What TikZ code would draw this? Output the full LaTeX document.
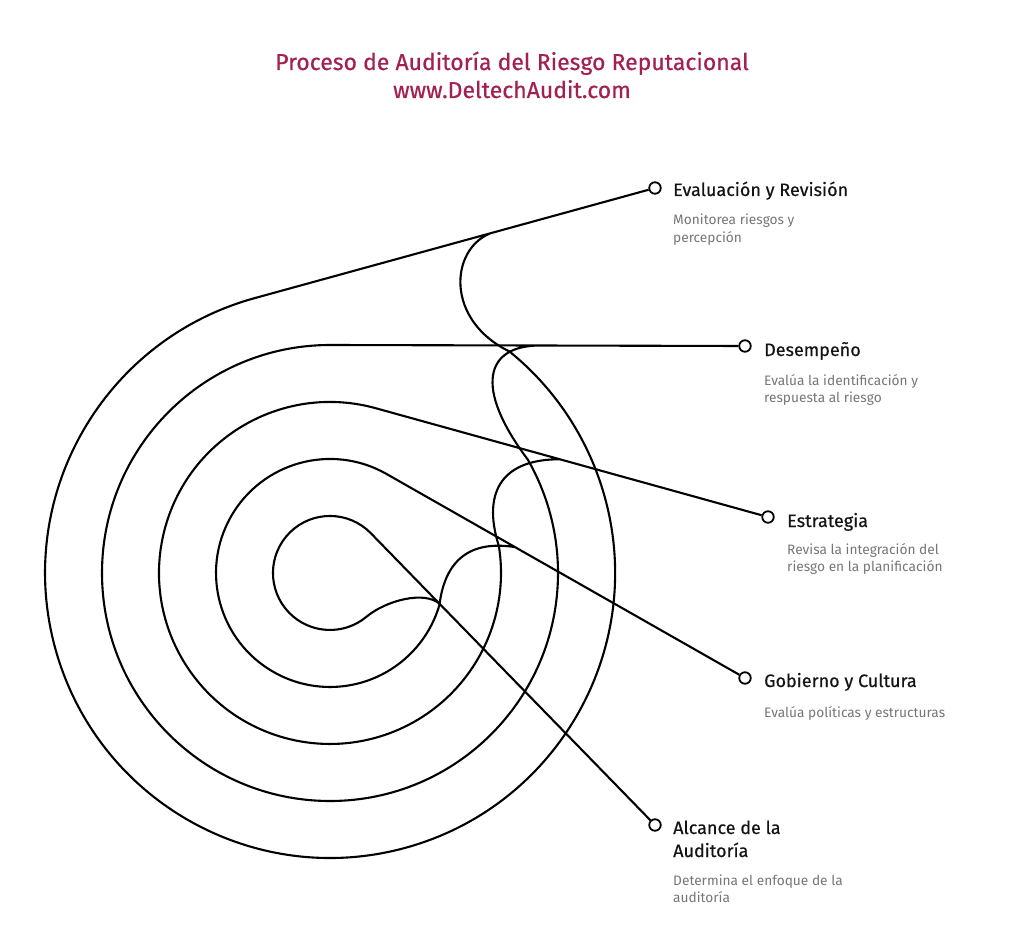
\documentclass[tikz,border=0pt]{standalone}
\usepackage{fontspec}
\setmainfont{Fira Sans}
\newfontfamily\headfont[FakeBold=0.5]{Fira Sans}
\definecolor{titlecol}{RGB}{162,33,80}
\definecolor{desccol}{RGB}{118,118,118}
\definecolor{headcol}{RGB}{20,20,20}
\begin{document}
\begin{tikzpicture}[x=1pt,y=-1pt,
  ln/.style={line width=2.1pt, black, line join=round},
  dot/.style={circle, draw=black, line width=1.8pt, fill=white, minimum size=11.5pt, inner sep=0pt},
  head/.style={anchor=base west, inner sep=0pt, font=\headfont\fontsize{18}{22}\selectfont, text=headcol},
  desc/.style={anchor=base west, inner sep=0pt, font=\fontsize{13.7}{17}\selectfont, text=desccol},
  ttl/.style={anchor=base, inner sep=0pt, font=\headfont\fontsize{23}{28}\selectfont, text=titlecol}]
\path[use as bounding box] (0,0) rectangle (1024,925);

% title
\node[ttl] (t1) at (512,70) {Proceso de Auditoría del Riesgo Reputacional};
\node[ttl] (t2) at (512,98) {www.DeltechAudit.com};

% dots
\node[dot] (dE) at (655,188) {};
\node[dot] (dD) at (745,346) {};
\node[dot] (dS) at (768,517) {};
\node[dot] (dG) at (745,678) {};
\node[dot] (dA) at (655,825) {};

% loops
\draw[ln] (dE) -- (254.4,298.2) arc[start angle=-105.4, end angle=-411, radius=285]
  .. controls (445,320) and (450,250) .. (490,233.4);
\draw[ln] (dD) -- (330,345) arc[start angle=-90, end angle=-389.85, radius=228]
  .. controls (473.7,387.5) and (485,345.5) .. (540,345.5);
\draw[ln] (dS) -- (375.7,408.2) arc[start angle=-74.5, end angle=-369, radius=171]
  .. controls (480.9,489) and (505,459) .. (560,459.3);
\draw[ln] (dG) -- (386.4,473.9) arc[start angle=-60.36, end angle=-343.7, radius=114]
  .. controls (445,560) and (470,540) .. (515,547.1);
\draw[ln] (dA) -- (370.8,533.2) arc[start angle=-44.24, end angle=-310, radius=57]
  .. controls (385.8,600.6) and (425,590) .. (440,604.3);

% labels
\node[head] (hE) at (673,196) {Evaluación y Revisión};
\node[desc] (dE1) at (673,225) {Monitorea riesgos y};
\node[desc] (dE2) at (673,242) {percepción};

\node[head] (hD) at (764,356) {Desempeño};
\node[desc] (dD1) at (764,385) {Evalúa la identificación y};
\node[desc] (dD2) at (764,402) {respuesta al riesgo};

\node[head] (hS) at (787,527) {Estrategia};
\node[desc] (dS1) at (787,554) {Revisa la integración del};
\node[desc] (dS2) at (787,571) {riesgo en la planificación};

\node[head] (hG) at (764,687) {Gobierno y Cultura};
\node[desc] (dG1) at (764,717) {Evalúa políticas y estructuras};

\node[head] (hA1) at (673,834) {Alcance de la};
\node[head] (hA2) at (673,857) {Auditoría};
\node[desc] (dA1) at (673,885) {Determina el enfoque de la};
\node[desc] (dA2) at (673,902) {auditoría};
\end{tikzpicture}
\end{document}
